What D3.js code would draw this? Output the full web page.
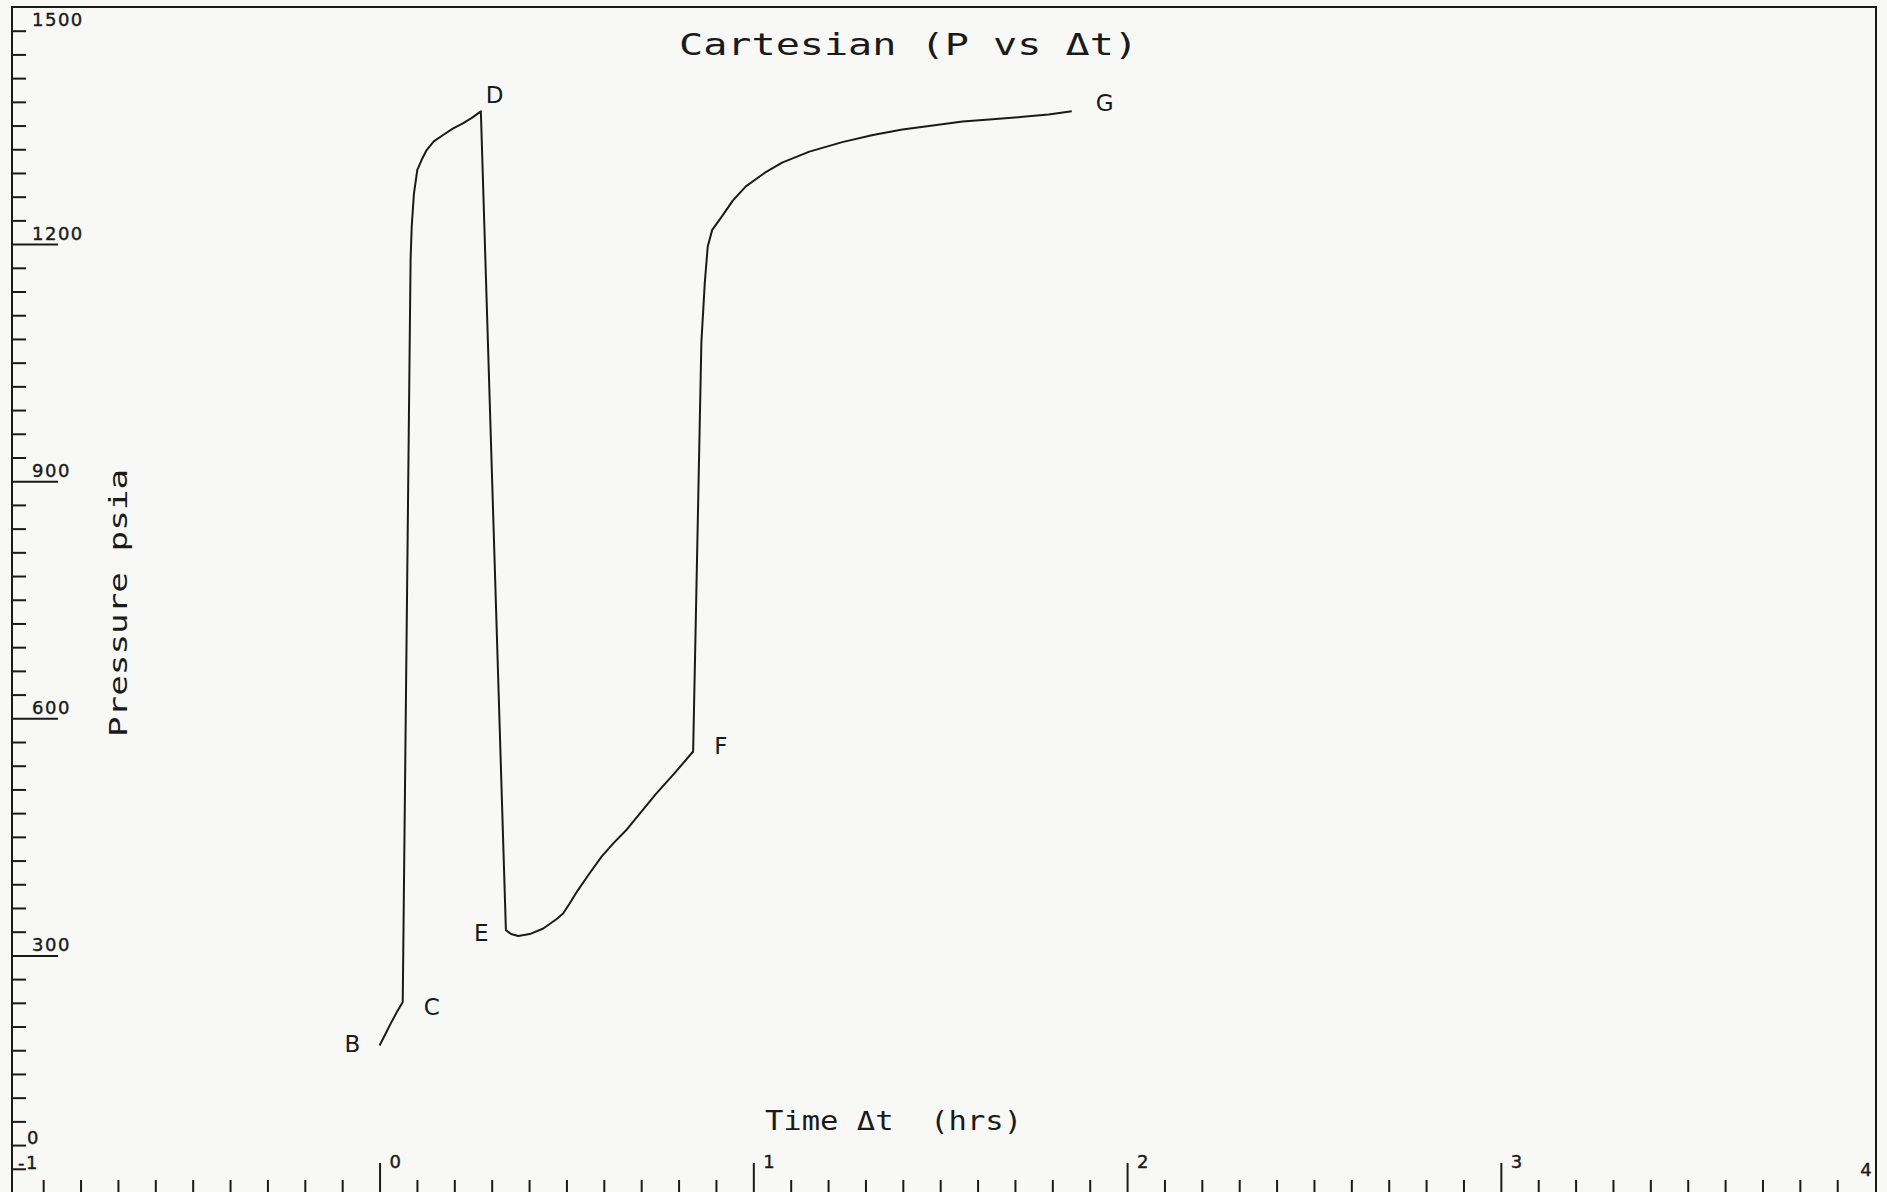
<!DOCTYPE html>
<html><head><meta charset="utf-8">
<script src="https://cdn.jsdelivr.net/npm/d3@7"></script>
<style>html,body{margin:0;padding:0;background:#f8f8f6;} svg{display:block}</style>
</head><body>
<script>
// ---- data ----
const timeHrs = [0, 0.015, 0.030, 0.046, 0.062, 0.083, 0.086, 0.092, 0.101, 0.113, 0.126, 0.145, 0.170, 0.196, 0.224, 0.248, 0.271,
  0.338, 0.352, 0.371, 0.402, 0.438, 0.474, 0.491, 0.509, 0.530, 0.562, 0.594, 0.626, 0.659, 0.699, 0.739, 0.790, 0.839,
  0.861, 0.870, 0.878, 0.890, 0.916, 0.945, 0.980, 1.030, 1.077, 1.150, 1.238, 1.320, 1.399, 1.480, 1.560, 1.640, 1.721, 1.790, 1.852];
const pressurePsia = [186, 200, 214, 228, 241, 1180, 1222, 1264, 1294, 1307, 1319, 1330, 1338, 1346, 1353, 1360, 1368,
  332, 327, 324.5, 327, 334, 346, 353, 366, 382, 404, 425, 442, 458, 481, 504, 531, 558,
  1075, 1150, 1197, 1218, 1235, 1255, 1273, 1290, 1303, 1317, 1329, 1338, 1345, 1350, 1355, 1358, 1361, 1364, 1368];
const keyPoints = [
  {name: "B", t: 0.000, p: 186},
  {name: "C", t: 0.062, p: 241},
  {name: "D", t: 0.271, p: 1368},
  {name: "E", t: 0.338, p: 332},
  {name: "F", t: 0.839, p: 558},
  {name: "G", t: 1.852, p: 1368}
];
const xMajorTicks = [0, 1, 2, 3];
const xTickLabels = ["0", "1", "2", "3", "4"];
const yMajorTicks = [300, 600, 900, 1200];
const yTickLabels = ["300", "600", "900", "1200"];
const titleText = "Cartesian (P vs \u0394t)";
const xTitle = "Time \u0394t  (hrs)";
const yTitle = "Pressure psia";

// ---- layout ----
const W = 1887, H = 1192;
const frameL = 12, frameT = 7, frameR = 1876;
const x = d3.scaleLinear().domain([-1, 4]).range([5.8, 1874.6]);
const y = d3.scaleLinear().domain([0, 1500]).range([1192.5, 7]);
const font = "'DejaVu Sans Mono', monospace";
const ink = "#1a1a1a";

const svg = d3.select("body").append("svg").attr("width", W).attr("height", H);
svg.append("rect").attr("width", W).attr("height", H).attr("fill", "#f8f8f6");

// frame
svg.append("path")
  .attr("d", `M${frameL},${H + 5}V${frameT}H${frameR}V${H + 5}`)
  .attr("fill", "none").attr("stroke", ink).attr("stroke-width", 2);

// y axis ticks (inward)
const yMinor = d3.range(30, 1500, 30).filter(v => v % 300 !== 0);
const yAxMinor = svg.append("g").attr("transform", `translate(${frameL},0)`)
  .call(d3.axisRight(y).tickValues(yMinor).tickSize(14).tickFormat(""));
const yAxMajor = svg.append("g").attr("transform", `translate(${frameL},0)`)
  .call(d3.axisRight(y).tickValues(yMajorTicks).tickSize(46).tickFormat(""));
[yAxMinor, yAxMajor].forEach(g => {
  g.select(".domain").remove();
  g.selectAll("line").attr("stroke", ink).attr("stroke-width", 2);
});

// x axis ticks (upward from below bottom edge)
const xBase = 1194;
const xMinor = d3.range(-9, 40).map(v => v / 10).filter(v => Math.abs(v - Math.round(v)) > 1e-6);
const xAxMinor = svg.append("g").attr("transform", `translate(0,${xBase})`)
  .call(d3.axisTop(x).tickValues(xMinor).tickSize(14).tickFormat(""));
const xAxMajor = svg.append("g").attr("transform", `translate(0,${xBase})`)
  .call(d3.axisTop(x).tickValues(xMajorTicks).tickSize(31).tickFormat(""));
[xAxMinor, xAxMajor].forEach(g => {
  g.select(".domain").remove();
  g.selectAll("line").attr("stroke", ink).attr("stroke-width", 2);
});

// tick labels
const lab = svg.append("g").attr("font-family", "'DejaVu Sans', sans-serif").attr("font-size", 18).attr("fill", ink)
  .attr("stroke", ink).attr("stroke-width", 0.4).attr("letter-spacing", 1.5);
yMajorTicks.forEach((v, i) => {
  lab.append("text").attr("x", 32).attr("y", y(v) - 4).text(yTickLabels[i]);
});
lab.append("text").attr("x", 32).attr("y", y(1500) + 19).text("1500");
lab.append("text").attr("x", 27).attr("y", y(60) - 1).text("0");
lab.append("text").attr("x", 18).attr("y", y(30)).text("-1");

xMajorTicks.forEach((v, i) => {
  lab.append("text").attr("x", x(v) + 10).attr("y", 1168).text(xTickLabels[i]);
});
lab.append("text").attr("x", x(4) - 3).attr("y", 1176).attr("text-anchor", "end").attr("letter-spacing", 0).text(xTickLabels[4]);

// titles
svg.append("text").attr("x", 679).attr("y", 55).attr("font-family", font).attr("font-size", 30)
  .attr("fill", ink).attr("textLength", 459).attr("lengthAdjust", "spacingAndGlyphs").text(titleText);
svg.append("text").attr("x", 765).attr("y", 1130).attr("font-family", font).attr("font-size", 26)
  .attr("fill", ink).attr("textLength", 257).attr("lengthAdjust", "spacingAndGlyphs").attr("xml:space", "preserve")
  .style("white-space", "pre").text(xTitle);
svg.append("text").attr("transform", "translate(127,737) rotate(-90)").attr("font-family", font).attr("font-size", 25)
  .attr("fill", ink).attr("textLength", 268).attr("lengthAdjust", "spacingAndGlyphs").text(yTitle);

// curve
const pts = timeHrs.map((t, i) => [t, pressurePsia[i]]);
svg.append("path").datum(pts)
  .attr("d", d3.line().x(d => x(d[0])).y(d => y(d[1])).curve(d3.curveLinear))
  .attr("fill", "none").attr("stroke", ink).attr("stroke-width", 2).attr("stroke-linejoin", "round");

// point labels
const offsets = {B: [-35, 7], C: [21, 13], D: [5, -8], E: [-32, 11], F: [21, 3], G: [24, 0]};
svg.append("g").attr("font-family", "'DejaVu Sans', sans-serif").attr("font-size", 23).attr("fill", ink)
  .selectAll("text").data(keyPoints).join("text")
  .attr("x", d => x(d.t) + offsets[d.name][0])
  .attr("y", d => y(d.p) + offsets[d.name][1])
  .text(d => d.name);
</script>
</body></html>
